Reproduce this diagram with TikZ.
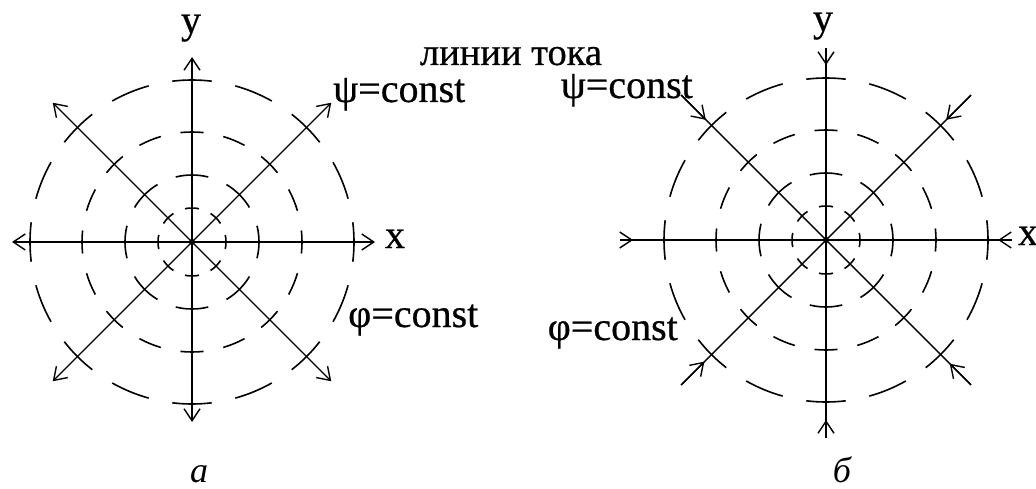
\documentclass[tikz,border=0pt]{standalone}
\usepackage{fontspec}
\setmainfont{Liberation Serif}
\newfontfamily\heavy{Liberation Serif}[FakeBold=0.6]
\usetikzlibrary{arrows.meta,calc}
\begin{document}
\begin{tikzpicture}[x=1pt,y=1pt,
  axis/.style={line width=2.2pt},
  diag/.style={line width=1.4pt},
  dsh/.style={line width=1.6pt},
  barb/.style={-{Straight Barb[length=12pt,width=16pt,line width=1.4pt]}},
  lbl/.style={font=\heavy\fontsize{40}{40}\selectfont, inner sep=0pt},
  sublbl/.style={font=\fontsize{36}{36}\selectfont\itshape, inner sep=0pt},
]
\useasboundingbox (0,0) rectangle (1036,488);
% ---------- centres ----------
\coordinate (L) at (192,246);
\coordinate (R) at (826,248);
% ---------- dashed circles ----------
\foreach \c in {L,R}{
  \foreach \a in {0,22.5,...,337.5}{
    \draw[dsh] (\c) ++(\a-7:162) arc[start angle=\a-7,end angle=\a+7,radius=162];
    \draw[dsh] (\c) ++(\a-6:110) arc[start angle=\a-6,end angle=\a+6,radius=110];
  }
  \foreach \a in {0,45,...,315}{
    \draw[dsh] (\c) ++(\a-14:67) arc[start angle=\a-14,end angle=\a+14,radius=67];
    \draw[dsh] (\c) ++(\a-12:34) arc[start angle=\a-12,end angle=\a+12,radius=34];
  }
}
% ---------- left diagram (a): source ----------
\coordinate (Lr) at (375,246);
\coordinate (Ll) at (12,246);
\coordinate (Lt) at (192,431);
\coordinate (Lb) at (192,66);
\coordinate (Ld1) at ($(L)+(45:197)$);
\coordinate (Ld2) at ($(L)+(135:197)$);
\coordinate (Ld3) at ($(L)+(225:197)$);
\coordinate (Ld4) at ($(L)+(315:197)$);
\draw[axis,barb] (L) -- (Lr);
\draw[axis,barb] (L) -- (Ll);
\draw[axis,barb] (L) -- (Lt);
\draw[axis,barb] (L) -- (Lb);
\foreach \d in {Ld1,Ld2,Ld3,Ld4} \draw[diag,barb] (L) -- (\d);
\fill (L) circle (3);
% ---------- right diagram (b): sink ----------
\coordinate (Rr) at (1012,248);
\coordinate (Rl) at (620,248);
\coordinate (Rt) at (826,440);
\coordinate (Rb) at (826,50);
\coordinate (Rd1) at ($(R)+(45:205)$);
\coordinate (Rd2) at ($(R)+(135:205)$);
\coordinate (Rd3) at ($(R)+(225:205)$);
\coordinate (Rd4) at ($(R)+(315:205)$);
\coordinate (Rr1) at (998,248);
\coordinate (Rl1) at (633,248);
\coordinate (Rt1) at (826,423);
\coordinate (Rb1) at (826,68);
\coordinate (Rd1a) at ($(R)+(45:170)$);
\coordinate (Rd2a) at ($(R)+(135:170)$);
\coordinate (Rd3a) at ($(R)+(225:172)$);
\coordinate (Rd4a) at ($(R)+(315:175)$);
\draw[axis] (Rl) -- (Rr);
\draw[axis] (Rb) -- (Rt);
\draw[diag] (Rd1) -- (Rd3);
\draw[diag] (Rd2) -- (Rd4);
\draw[axis,barb] (Rr) -- (Rr1);
\draw[axis,barb] (Rl) -- (Rl1);
\draw[axis,barb] (Rt) -- (Rt1);
\draw[axis,barb] (Rb) -- (Rb1);
\draw[diag,barb] (Rd1) -- (Rd1a);
\draw[diag,barb] (Rd2) -- (Rd2a);
\draw[diag,barb] (Rd3) -- (Rd3a);
\draw[diag,barb] (Rd4) -- (Rd4a);
\fill (R) circle (3);
% ---------- labels ----------
\node[lbl,anchor=base] (Ly) at (191,455) {y};
\node[lbl,anchor=base] (Lx) at (395,240) {x};
\node[lbl,anchor=base west] (Lpsi) at (333,386) {ψ=const};
\node[lbl,anchor=base west] (Lphi) at (348,161) {φ=const};
\node[lbl,anchor=base,font=\heavy\fontsize{38.5}{38.5}\selectfont] (lines) at (511,423) {линии тока};
\node[lbl,anchor=base] (Ry) at (823,457) {y};
\node[lbl,anchor=base] (Rx) at (1028,243) {x};
\node[lbl,anchor=base east] (Rpsi) at (693,390) {ψ=const};
\node[lbl,anchor=base east] (Rphi) at (678,148) {φ=const};
\node[sublbl,anchor=base] (la) at (199,6) {а};
\node[sublbl,anchor=base] (lb) at (842,6) {б};
\end{tikzpicture}
\end{document}
